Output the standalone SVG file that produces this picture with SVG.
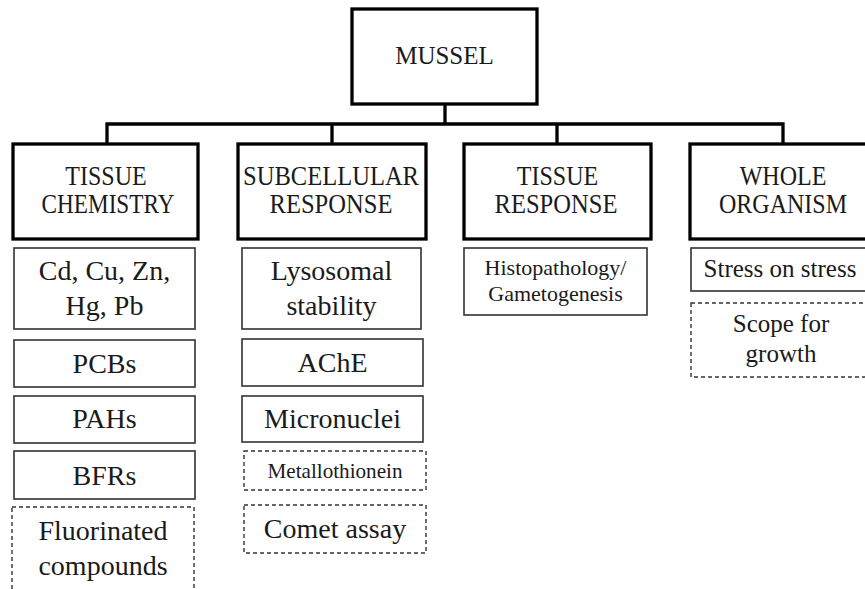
<svg xmlns="http://www.w3.org/2000/svg" width="865" height="589" viewBox="0 0 865 589" font-family="'Liberation Serif', 'Times New Roman', 'DejaVu Serif', serif">
<style>
text{font-family:'Liberation Serif','Times New Roman','DejaVu Serif',serif;fill:#1a1a1a;text-anchor:middle}
.main{fill:#fff;stroke:#000;stroke-width:3.3}
.item{fill:#fff;stroke:#333;stroke-width:1.6}
.dash{fill:#fff;stroke:#333;stroke-width:1.4;stroke-dasharray:4 3}
.conn{fill:none;stroke:#000;stroke-width:3.3}
.t1{font-size:25px}
.t2{font-size:27px}
.t4{font-size:25px}
.t3{font-size:28px}
</style>
<g id="connectors">
<path class="conn" d="M445 104V124M107 144V124H783V144M332 124V144M557 124V144"/>
</g>
<g id="mussel"><rect class="main" x="352" y="9" width="185" height="95"/><text class="t1" x="444.5" y="64">MUSSEL</text></g>
<g id="tissue-chemistry"><rect class="main" x="13" y="144" width="185" height="95"/><text class="t2" transform="translate(106 185) scale(0.89 1)">TISSUE</text><text class="t2" transform="translate(108 213) scale(0.86 1)">CHEMISTRY</text></g>
<g id="subcellular-response"><rect class="main" x="238" y="144" width="188" height="95"/><text class="t2" transform="translate(331 185) scale(0.91 1)">SUBCELLULAR</text><text class="t2" transform="translate(331 213) scale(0.91 1)">RESPONSE</text></g>
<g id="tissue-response"><rect class="main" x="464" y="144" width="187" height="95"/><text class="t2" transform="translate(557.5 185) scale(0.89 1)">TISSUE</text><text class="t2" transform="translate(556 213) scale(0.91 1)">RESPONSE</text></g>
<g id="whole-organism"><rect class="main" x="690" y="144" width="187" height="95"/><text class="t2" transform="translate(783 185) scale(0.89 1)">WHOLE</text><text class="t2" transform="translate(783 213) scale(0.89 1)">ORGANISM</text></g>

<g id="metals"><rect class="item" x="14" y="248" width="181" height="81"/><text class="t3" x="104.5" y="280">Cd, Cu, Zn,</text><text class="t3" x="104.5" y="315">Hg, Pb</text></g>
<g id="pcbs"><rect class="item" x="14" y="340" width="181" height="47"/><text class="t3" x="104.5" y="373">PCBs</text></g>
<g id="pahs"><rect class="item" x="14" y="396" width="181" height="47"/><text class="t3" x="104.5" y="428">PAHs</text></g>
<g id="bfrs"><rect class="item" x="14" y="451" width="181" height="48"/><text class="t3" x="104.5" y="485">BFRs</text></g>
<g id="fluorinated"><rect class="dash" x="12" y="507" width="182" height="90"/><text class="t3" x="103" y="540">Fluorinated</text><text class="t3" x="103" y="575">compounds</text></g>

<g id="lysosomal"><rect class="item" x="242" y="248" width="179" height="81"/><text class="t3" x="331.5" y="280">Lysosomal</text><text class="t3" x="331.5" y="315">stability</text></g>
<g id="ache"><rect class="item" x="242" y="339" width="181" height="47"/><text class="t3" x="332.5" y="372">AChE</text></g>
<g id="micronuclei"><rect class="item" x="242" y="396" width="181" height="46"/><text class="t3" x="332.5" y="428">Micronuclei</text></g>
<g id="metallothionein"><rect class="dash" x="244" y="451" width="182" height="39"/><text x="335" y="478" style="font-size:21px" textLength="135" lengthAdjust="spacingAndGlyphs">Metallothionein</text></g>
<g id="comet"><rect class="dash" x="244" y="505" width="182" height="48"/><text class="t3" x="335" y="538">Comet assay</text></g>

<g id="histopathology"><rect class="item" x="464" y="248" width="183" height="67"/><text x="555.5" y="275" style="font-size:22px">Histopathology/</text><text x="555.5" y="301" style="font-size:22px">Gametogenesis</text></g>

<g id="stress"><rect class="item" x="691" y="248" width="180" height="43"/><text class="t4" x="780" y="277">Stress on stress</text></g>
<g id="scope"><rect class="dash" x="691" y="303" width="180" height="74"/><text class="t4" x="781" y="332">Scope for</text><text class="t4" x="781" y="362">growth</text></g>
</svg>
